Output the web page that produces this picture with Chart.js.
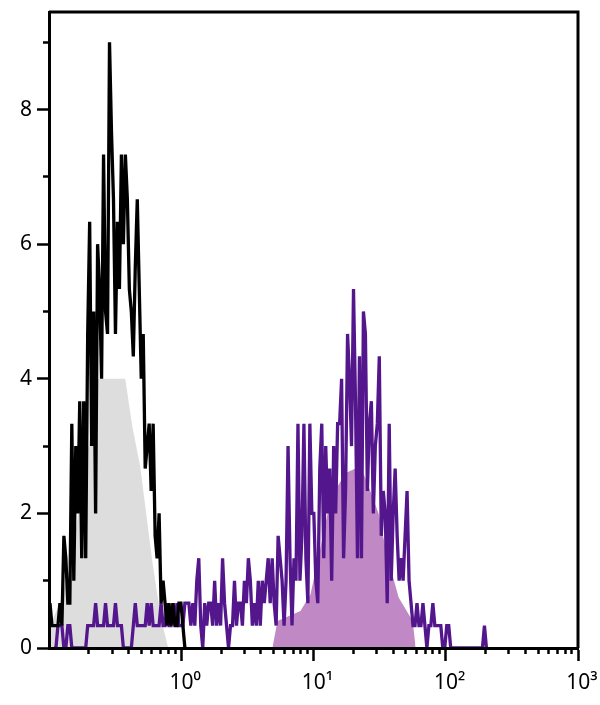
<!DOCTYPE html>
<html>
<head>
<meta charset="utf-8">
<script src="https://cdn.jsdelivr.net/npm/chart.js@4"></script>
<style>
  html, body { margin: 0; padding: 0; background: #fff; }
  canvas { display: block; }
</style>
</head>
<body>
<canvas id="histChart" width="600" height="705"></canvas>
<script>
// log channels: bins of 0.015 decade, first bin starts at 10^-1
const binStart = -1;
const binStep = 0.015;
// one event per channel = 1/3 on the y axis
const countUnit = 1 / 3;

// unstained control (black line, grey fill), bins 0..68
const controlFirstBin = 0;
const controlCounts = [
  2, 1, 1, 1, 1, 2, 1, 5, 4, 2,
  2, 10, 3, 9, 6, 11, 4, 11, 4, 14,
  19, 9, 15, 6, 18, 16, 12, 22, 15, 14,
  27, 23, 20, 14, 19, 16, 22, 18, 22, 20,
  16, 15, 13, 17, 20, 16, 12, 14, 8, 9,
  10, 7, 10, 5, 4, 6, 2, 3, 2, 1,
  2, 1, 2, 1, 1, 2, 2, 1, 0];

// stained sample (purple line, purple fill), bins 2..220
const stainedFirstBin = 2;
const stainedCounts = [
  0, 0, 1, 1, 1, 0, 0, 1, 1, 0,
  0, 0, 0, 0, 0, 0, 0, 1, 1, 1,
  1, 2, 1, 1, 1, 1, 2, 1, 1, 1,
  1, 2, 1, 1, 1, 0, 0, 0, 0, 0,
  1, 2, 1, 1, 1, 1, 1, 2, 1, 2,
  1, 1, 1, 1, 2, 1, 1, 2, 1, 1,
  2, 1, 2, 1, 1, 1, 2, 2, 2, 1,
  2, 1, 3, 4, 1, 0, 2, 1, 2, 2,
  1, 3, 1, 2, 1, 4, 2, 1, 0, 1,
  1, 3, 1, 2, 2, 1, 3, 2, 4, 3,
  1, 2, 1, 3, 1, 3, 2, 3, 4, 2,
  4, 2, 1, 5, 4, 3, 1, 3, 9, 4,
  1, 4, 3, 10, 3, 5, 10, 4, 2, 10,
  6, 6, 3, 2, 8, 10, 4, 9, 6, 8,
  3, 9, 6, 10, 10, 12, 4, 7, 14, 12,
  9, 16, 11, 4, 13, 4, 15, 14, 7, 10,
  11, 6, 9, 10, 13, 5, 7, 6, 2, 10,
  3, 6, 8, 5, 3, 4, 3, 5, 7, 3,
  2, 1, 1, 2, 1, 1, 2, 1, 0, 1,
  1, 2, 1, 1, 1, 1, 0, 0, 1, 1,
  0, 0, 0, 0, 0, 0, 0, 0, 0, 0,
  0, 0, 0, 0, 0, 0, 0, 1, 0];

// smoothed outlines used for the filled areas
const controlFillX = [0.1, 0.121, 0.135, 0.149, 0.166, 0.187, 0.212, 0.235, 0.377, 0.426, 0.489, 0.543, 0.603, 0.658, 0.731, 0.797];
const controlFillY = [0.3, 0.67, 1.0, 1.3, 2.0, 2.7, 3.3, 4.0, 4.0, 3.3, 2.7, 2.0, 1.3, 0.8, 0.3, 0];
const stainedFillX = [4.89, 5.34, 7.97, 9.49, 10.91, 12.77, 14.68, 17.48, 22.71, 26.1, 31.07, 35.73, 44.05, 56.23, 59.25];
const stainedFillY = [0, 0.4, 0.55, 0.8, 1.35, 2.0, 2.35, 2.6, 2.7, 2.4, 2.0, 1.4, 0.75, 0.4, 0];

// axes
const xMajorTicks = [1, 10, 100, 1000];
const xTickLabels = ['10⁰', '10¹', '10²', '10³'];
const xMinorTicks = [0.2, 0.3, 0.4, 0.5, 0.6, 0.7, 0.8, 0.9,
  2, 3, 4, 5, 6, 7, 8, 9,
  20, 30, 40, 50, 60, 70, 80, 90,
  200, 300, 400, 500, 600, 700, 800, 900];
const yMajorTicks = [0, 2, 4, 6, 8];
const yMinorTicks = [1, 3, 5, 7, 9];

function channelPoints(first, counts) {
  return counts.map((c, i) => ({
    x: Math.pow(10, binStart + (first + i + 0.5) * binStep),
    y: c * countUnit
  }));
}

function outline(xs, ys) {
  return xs.map((x, i) => ({ x: x, y: ys[i] }));
}

const labelFont = { family: "'Noto Sans', sans-serif", size: 21 };

const frame = {
  id: 'frame',
  afterDatasetsDraw(chart) {
    const { ctx, chartArea } = chart;
    ctx.save();
    ctx.strokeStyle = '#000';
    ctx.lineWidth = 3;
    ctx.beginPath();
    ctx.moveTo(chartArea.left, chartArea.top);
    ctx.lineTo(chartArea.right, chartArea.top);
    ctx.lineTo(chartArea.right, chartArea.bottom);
    ctx.stroke();
    ctx.restore();
  }
};

new Chart(document.getElementById('histChart'), {
  type: 'line',
  data: {
    datasets: [
      {
        label: 'Control',
        data: channelPoints(controlFirstBin, controlCounts),
        borderColor: '#000',
        borderWidth: 3.3,
        fill: false,
        order: 0,
        xAxisID: 'x', yAxisID: 'y'
      },
      {
        label: 'Stained',
        data: channelPoints(stainedFirstBin, stainedCounts),
        borderColor: 'rgb(84, 22, 140)',
        borderWidth: 3.3,
        fill: false,
        order: 1,
        xAxisID: 'x', yAxisID: 'y'
      },
      {
        label: 'Stained fill',
        data: outline(stainedFillX, stainedFillY),
        borderColor: 'transparent',
        borderWidth: 0,
        backgroundColor: 'rgb(192, 136, 196)',
        fill: 'origin',
        order: 2,
        xAxisID: 'x', yAxisID: 'y'
      },
      {
        label: 'Control fill',
        data: outline(controlFillX, controlFillY),
        borderColor: 'transparent',
        borderWidth: 0,
        backgroundColor: 'rgb(221, 221, 221)',
        fill: 'origin',
        order: 3,
        xAxisID: 'x', yAxisID: 'y'
      }
    ]
  },
  options: {
    responsive: false,
    animation: false,
    layout: { padding: { top: 12, right: 22, left: 0, bottom: 0 } },
    elements: { point: { radius: 0 }, line: { tension: 0 } },
    plugins: { legend: { display: false }, tooltip: { enabled: false } },
    scales: {
      x: {
        type: 'logarithmic',
        position: 'bottom',
        min: 0.1,
        max: 1000,
        afterBuildTicks: s => { s.ticks = xMajorTicks.map(v => ({ value: v })); },
        afterFit: s => { s.height = 57; s.paddingLeft = 0; s.paddingRight = 0; },
        grid: { drawOnChartArea: false, tickLength: 13, tickWidth: 2.5, tickColor: '#000' },
        border: { display: true, color: '#000', width: 3, z: 1 },
        ticks: {
          autoSkip: false, maxRotation: 0, padding: 9, labelOffset: 4,
          color: '#000', font: labelFont,
          callback: (v, i) => xTickLabels[i]
        }
      },
      y: {
        type: 'linear',
        position: 'left',
        min: 0,
        max: 9.45,
        afterBuildTicks: s => { s.ticks = yMajorTicks.map(v => ({ value: v })); },
        afterFit: s => { s.width = 49; s.paddingTop = 0; s.paddingBottom = 0; },
        grid: { drawOnChartArea: false, tickLength: 12, tickWidth: 2.5, tickColor: '#000' },
        border: { display: true, color: '#000', width: 3, z: 1 },
        ticks: { padding: 5, color: '#000', font: labelFont }
      },
      xMinor: {
        axis: 'x',
        type: 'logarithmic',
        position: { y: 0 },
        min: 0.1,
        max: 1000,
        afterBuildTicks: s => { s.ticks = xMinorTicks.map(v => ({ value: v })); },
        grid: { drawOnChartArea: false, tickLength: 6, tickWidth: 2.5, tickColor: '#000' },
        border: { display: false },
        ticks: { display: false }
      },
      yMinor: {
        axis: 'y',
        type: 'linear',
        position: { x: 0.1 },
        min: 0,
        max: 9.45,
        afterBuildTicks: s => { s.ticks = yMinorTicks.map(v => ({ value: v })); },
        grid: { drawOnChartArea: false, tickLength: 6, tickWidth: 2.5, tickColor: '#000' },
        border: { display: false },
        ticks: { display: false }
      }
    }
  },
  plugins: [frame]
});
</script>
</body>
</html>
